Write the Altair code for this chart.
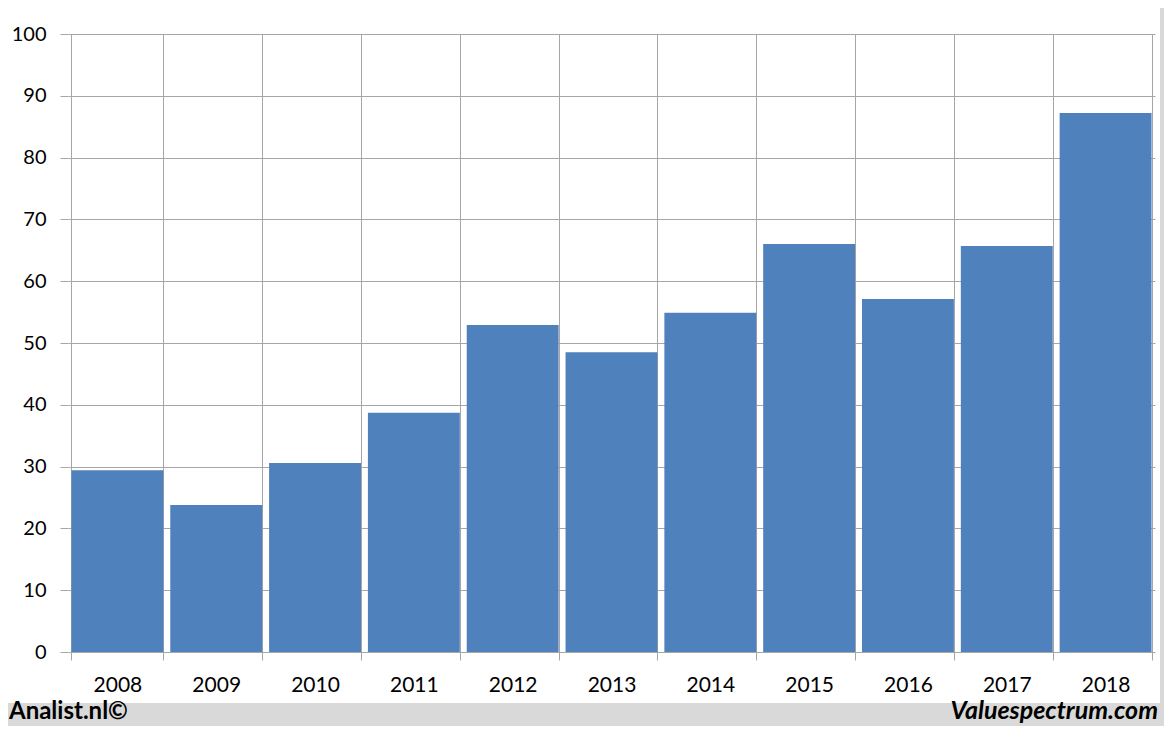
import altair as alt
import pandas as pd

years = ["2008", "2009", "2010", "2011", "2012", "2013", "2014", "2015", "2016", "2017", "2018"]
values = [29.4, 23.8, 30.6, 38.7, 52.9, 48.5, 54.9, 66.0, 57.1, 65.7, 87.2]
y_ticks = [0, 10, 20, 30, 40, 50, 60, 70, 80, 90, 100]

df = pd.DataFrame({"year": years, "value": values})

W, H = 1087, 618
PAD = {"left": 60, "top": 26, "right": 9, "bottom": 74}
GRID = "#a6a6a6"
FRAME = "#d9d9d9"

bars = alt.Chart(df).mark_bar(color="#4f81bd").encode(
    x=alt.X(
        "year:O",
        scale=alt.Scale(paddingInner=0.07, paddingOuter=0.035),
        axis=alt.Axis(
            title=None, labelAngle=0, tickBand="extent", grid=True,
            gridColor=GRID, gridWidth=1, domain=False,
            ticks=True, tickColor=GRID, tickSize=8,
            labelFont="Lato", labelFontSize=21, labelColor="black",
            labelPadding=14,
        ),
    ),
    y=alt.Y(
        "value:Q",
        scale=alt.Scale(domain=[0, 100], nice=False),
        axis=alt.Axis(
            title=None, values=y_ticks, grid=True, gridColor=GRID, gridWidth=1,
            domain=False, ticks=True, tickColor=GRID, tickSize=8,
            labelFont="Lato", labelFontSize=20, labelColor="black",
            labelPadding=14,
        ),
    ),
)

one = alt.Data(values=[{}])

bottom_band = alt.Chart(one).mark_rect(color=FRAME).encode(
    x=alt.value(-60), x2=alt.value(W + PAD["right"]),
    y=alt.value(669), y2=alt.value(H + PAD["bottom"]),
)
right_band = alt.Chart(one).mark_rect(color=FRAME).encode(
    x=alt.value(1092), x2=alt.value(W + PAD["right"]),
    y=alt.value(-PAD["top"]), y2=alt.value(H + PAD["bottom"]),
)

left_text = alt.Chart(one).mark_text(
    text="Analist.nl©", font="Lato", fontSize=24, fontWeight="bold",
    align="left", baseline="alphabetic", color="black",
).encode(x=alt.value(-59), y=alt.value(685))

right_text = alt.Chart(one).mark_text(
    text="Valuespectrum.com", font="Lato", fontSize=25, fontWeight="bold",
    fontStyle="italic", align="right", baseline="alphabetic", color="black",
).encode(x=alt.value(1090), y=alt.value(685))

chart = alt.layer(bars, bottom_band, right_band, left_text, right_text).properties(
    width=W, height=H, padding=PAD,
    autosize=alt.AutoSizeParams(type="none"),
    background="white",
).configure_view(stroke=None)

chart.save("out.html", embed_options={"renderer": "svg", "actions": False})
